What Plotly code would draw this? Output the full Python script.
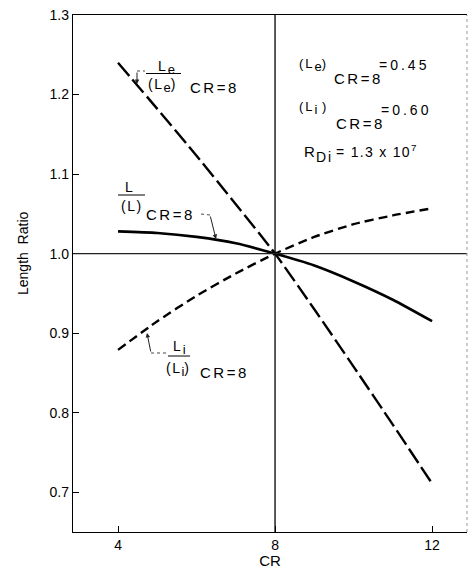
import plotly.graph_objects as go

# ---------------- data ----------------
cr = [4, 5, 6, 7, 8, 9, 10, 11, 12]
le_ratio = [1.240, 1.182, 1.123, 1.062, 1.000, 0.930, 0.858, 0.785, 0.711]
l_ratio = [1.028, 1.026, 1.021, 1.013, 1.000, 0.985, 0.965, 0.942, 0.915]
li_ratio = [0.879, 0.915, 0.947, 0.975, 1.000, 1.021, 1.037, 1.048, 1.057]

x_ticks = [4, 8, 12]
y_ticks = [0.7, 0.8, 0.9, 1.0, 1.1, 1.2, 1.3]
y_tick_text = ["0.7", "0.8", "0.9", "1.0", "1.1", "1.2", "1.3"]

# ---------------- layout geometry ----------------
W, H = 469, 569
ML, MR, MT, MB = 73, 2, 15, 37
PW, PH = W - ML - MR, H - MT - MB
XR = [2.853, 12.89]
YR = [0.650, 1.300]

FONT = "Liberation Sans, Arial, Helvetica, sans-serif"


def px(x):
    return (x - ML) / PW


def py(y):
    return (H - MB - y) / PH


fig = go.Figure()

fig.add_trace(go.Scatter(x=cr, y=le_ratio, mode="lines",
                         line=dict(color="black", width=2.4, dash="17px,5px",
                                   shape="spline", smoothing=0.6),
                         showlegend=False, hoverinfo="skip"))
fig.add_trace(go.Scatter(x=cr, y=l_ratio, mode="lines",
                         line=dict(color="black", width=2.6,
                                   shape="spline", smoothing=0.6),
                         showlegend=False, hoverinfo="skip"))
fig.add_trace(go.Scatter(x=cr, y=li_ratio, mode="lines",
                         line=dict(color="black", width=2.4, dash="9px,5px",
                                   shape="spline", smoothing=0.6),
                         showlegend=False, hoverinfo="skip"))

shapes = []
shapes.append(dict(type="line", xref="x", yref="paper", x0=8, x1=8, y0=0, y1=1,
                   line=dict(color="black", width=1.3)))
shapes.append(dict(type="line", xref="paper", yref="y", x0=0, x1=1, y0=1.0, y1=1.0,
                   line=dict(color="#222", width=1.2)))
shapes.append(dict(type="line", xref="paper", yref="paper", x0=1, x1=1, y0=0, y1=1,
                   line=dict(color="#999", width=1, dash="dot")))


def pline(x0, y0, x1, y1, w=1.0, color="black", dash=None):
    d = dict(type="line", xref="paper", yref="paper",
             x0=px(x0), y0=py(y0), x1=px(x1), y1=py(y1),
             line=dict(color=color, width=w))
    if dash:
        d["line"]["dash"] = dash
    shapes.append(d)


# fraction bars
pline(146, 73.5, 181, 73.5, 1.0)
pline(118, 195, 145, 195, 1.0)
pline(168, 356, 190, 356, 1.0)
# leader horizontals
pline(137, 71, 145, 71, 0.9, "#333", "dot")
pline(201, 214, 210, 215, 0.9, "#333", "dot")
pline(151, 353, 166, 353, 0.9, "#333", "dot")

annotations = []


def sp(s, ls):
    return "<span style='letter-spacing:%.1fpx'>%s</span>" % (ls, s)


def sub(s, size):
    return "<sub><span style='font-size:%dpx'>%s</span></sub>" % (size, s)


def txt(x, y, s, size=14, xanchor="center", angle=0):
    annotations.append(dict(xref="paper", yref="paper", x=px(x), y=py(y), text=s,
                            showarrow=False, xanchor=xanchor, yanchor="middle",
                            textangle=angle,
                            font=dict(family=FONT, size=size, color="black")))


def arrow(xe, ye, xt, yt):
    annotations.append(dict(xref="paper", yref="paper", axref="pixel", ayref="pixel",
                            x=px(xt), y=py(yt), ax=xe - xt, ay=ye - yt, text="",
                            showarrow=True, arrowhead=2, arrowsize=0.9, arrowwidth=1,
                            arrowcolor="#222", standoff=0))


# Le label
txt(156, 67, sp("L", 2) + sub("e", 13), 14, "left")
txt(146, 86, sp("(L", 1.5) + sub("e", 13) + ")", 14, "left")
txt(188, 87, sp("CR=8", 2.5), 15, "left")
arrow(137, 71, 137, 84)

# L label
txt(129, 187, "L", 14)
txt(119, 206, sp("(L)", 1.5), 14, "left")
txt(144, 214, sp("CR=8", 2.5), 15, "left")
arrow(210, 215, 216, 239)

# Li label
txt(171, 347, sp("L", 2) + sub("i", 13), 14, "left")
txt(164, 369, sp("(L", 1.5) + sub("i", 13) + ")", 14, "left")
txt(198, 372, sp("CR=8", 2.5), 15, "left")
arrow(151, 353, 147, 333)

# right text block
txt(297, 65, sp("(L", 2) + sub("e", 13) + ")", 13, "left")
txt(332, 78, sp("CR=8", 2.5), 15, "left")
txt(377, 65, sp("=0.45", 3), 14, "left")

txt(297, 108, sp("(L", 2) + sub("i", 13) + sp(" )", 1), 13, "left")
txt(334, 123, sp("CR=8", 2.5), 15, "left")
txt(379, 110, sp("=0.60", 3), 14, "left")

txt(302, 151, "R", 15, "left")
txt(314, 157, sp("Di", 2), 14, "left")
txt(334, 151, sp("= 1.3 x 10", 1.3) + "<sup>7</sup>", 14, "left")

# y axis title
txt(23, 254, "Length&nbsp;&nbsp;Ratio", 14, "center", -90)

fig.update_layout(
    width=W, height=H,
    margin=dict(l=ML, r=MR, t=MT, b=MB, pad=0),
    paper_bgcolor="white", plot_bgcolor="white",
    font=dict(family=FONT, size=14, color="black"),
    shapes=shapes, annotations=annotations,
    xaxis=dict(range=XR, tickvals=x_ticks, ticktext=[str(v) for v in x_ticks],
               ticks="inside", ticklen=6, tickwidth=1.2, tickcolor="black",
               showline=True, linecolor="black", linewidth=1.4, mirror=True,
               showgrid=False, zeroline=False,
               tickfont=dict(family=FONT, size=14),
               title=dict(text="CR", font=dict(family=FONT, size=15), standoff=0)),
    yaxis=dict(range=YR, tickvals=y_ticks, ticktext=y_tick_text,
               ticks="inside", ticklen=6, tickwidth=1.2, tickcolor="black",
               showline=True, linecolor="black", linewidth=1.4,
               showgrid=False, zeroline=False,
               tickfont=dict(family=FONT, size=14)),
)

fig.write_html("out.html",
               config={"displayModeBar": False},
               post_script="document.body.style.margin='0';"
                           "document.documentElement.style.overflow='hidden';"
                           "document.body.style.overflow='hidden';")
